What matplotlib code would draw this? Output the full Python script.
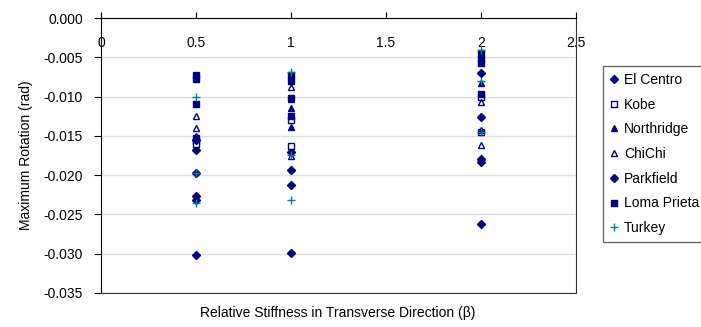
import matplotlib.pyplot as plt
from matplotlib.ticker import FormatStrFormatter

plt.rcParams['font.family'] = ['Liberation Sans', 'DejaVu Sans']

# stiffness ratio (beta) and max rotation (rad) for each record
el_centro_x = [0.5, 0.5, 0.5, 1, 1, 2, 2]
el_centro_y = [-0.0168, -0.0227, -0.0302, -0.0170, -0.0299, -0.0183, -0.0262]

kobe_x = [0.5, 0.5, 1, 1, 2, 2]
kobe_y = [-0.0157, -0.0160, -0.0130, -0.0163, -0.0100, -0.0145]

northridge_x = [0.5, 1, 1, 1, 2, 2]
northridge_y = [-0.0150, -0.0115, -0.0139, -0.0103, -0.0083, -0.0143]

chichi_x = [0.5, 0.5, 1, 1, 2, 2]
chichi_y = [-0.0125, -0.0140, -0.0088, -0.0175, -0.0107, -0.0162]

parkfield_x = [0.5, 0.5, 0.5, 1, 1, 2, 2, 2]
parkfield_y = [-0.0197, -0.0232, -0.0155, -0.0193, -0.0212, -0.0070, -0.0126, -0.0180]

loma_prieta_x = [0.5, 0.5, 0.5, 0.5, 1, 1, 1, 1, 2, 2, 2, 2]
loma_prieta_y = [-0.0073, -0.0078, -0.0110, -0.0153, -0.0072, -0.0080, -0.0102, -0.0125,
                 -0.0045, -0.0052, -0.0057, -0.0097]

turkey_x = [0.5, 0.5, 0.5, 1, 1, 1, 2, 2, 2]
turkey_y = [-0.0100, -0.0197, -0.0236, -0.0069, -0.0174, -0.0232, -0.0041, -0.0080, -0.0145]

navy = '#000080'
teal = '#008080'

fig = plt.figure(figsize=(7.01, 3.27), dpi=100)
ax = fig.add_axes([101 / 701, 1 - 293 / 327, 475 / 701, 275 / 327])

ax.plot(el_centro_x, el_centro_y, 'D', ms=4, color=navy, label='El Centro')
ax.plot(kobe_x, kobe_y, 's', ms=4.5, mfc='white', mec=navy, mew=1, label='Kobe')
ax.plot(northridge_x, northridge_y, '^', ms=5, color=navy, label='Northridge')
ax.plot(chichi_x, chichi_y, '^', ms=5, mfc='white', mec=navy, mew=1, label='ChiChi')
ax.plot(parkfield_x, parkfield_y, 'D', ms=4, color=navy, label='Parkfield')
ax.plot(loma_prieta_x, loma_prieta_y, 's', ms=4.5, color=navy, label='Loma Prieta')
ax.plot(turkey_x, turkey_y, '+', ms=6, mew=1, color=teal, label='Turkey')

ax.set_xlim(0, 2.5)
ax.set_ylim(-0.035, 0)
ax.set_xticks([0, 0.5, 1, 1.5, 2, 2.5])
ax.set_xticklabels(['0', '0.5', '1', '1.5', '2', '2.5'])
ax.set_yticks([-0.035, -0.03, -0.025, -0.02, -0.015, -0.01, -0.005, 0])
ax.yaxis.set_major_formatter(FormatStrFormatter('%.3f'))

# x axis sits on y = 0 (top), labels drawn inside the plot
ax.xaxis.tick_top()
ax.tick_params(axis='x', labeltop=True, direction='out', length=4, pad=-27, labelsize=10)
ax.tick_params(axis='y', direction='out', length=5, pad=8, labelsize=10)
ax.grid(axis='y', color='#e0e0e0', lw=1)
ax.set_axisbelow(True)
for s in ['left', 'top']:
    ax.spines[s].set_color('black')
for s in ['right', 'bottom']:
    ax.spines[s].set_color('#333333')

ax.set_ylabel('Maximum Rotation (rad)', fontsize=10)
ax.yaxis.set_label_coords(-68 / 475, 0.5)
fig.text(338 / 701, 1 - 313 / 327, 'Relative Stiffness in Transverse Direction (β)',
         ha='center', va='center', fontsize=10)

leg = fig.legend(loc='upper left', bbox_to_anchor=(603 / 701, 1 - 66 / 327),
                 bbox_transform=fig.transFigure, fontsize=10, frameon=True,
                 fancybox=False, edgecolor='#444444', handlelength=0.6,
                 handletextpad=0.4, labelspacing=0.77, borderpad=0.5, borderaxespad=0)
leg.get_frame().set_linewidth(1)

fig.savefig('out.png', dpi=100)
